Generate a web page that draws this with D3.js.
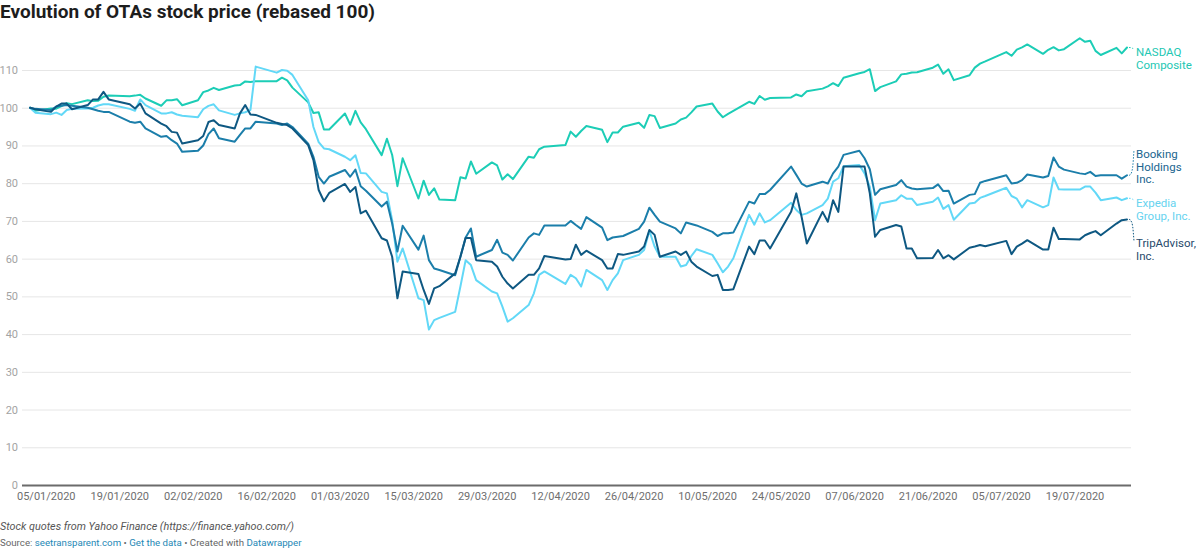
<!DOCTYPE html>
<html>
<head>
<meta charset="utf-8">
<script src="https://cdn.jsdelivr.net/npm/d3@7"></script>
<style>
  html, body { margin: 0; padding: 0; background: #fff; }
  svg { display: block; font-family: Roboto, "Noto Sans", sans-serif; }
</style>
</head>
<body>
<svg id="chart" width="1200" height="550"></svg>
<script>
const dates = [
  "2020-01-02","2020-01-03","2020-01-06","2020-01-07","2020-01-08","2020-01-09","2020-01-10","2020-01-13","2020-01-14","2020-01-15","2020-01-16","2020-01-17","2020-01-21","2020-01-22","2020-01-23","2020-01-24","2020-01-27","2020-01-28","2020-01-29","2020-01-30","2020-01-31",
  "2020-02-03","2020-02-04","2020-02-05","2020-02-06","2020-02-07","2020-02-10","2020-02-11","2020-02-12","2020-02-13","2020-02-14","2020-02-18","2020-02-19","2020-02-20","2020-02-21","2020-02-24","2020-02-25","2020-02-26","2020-02-27","2020-02-28",
  "2020-03-02","2020-03-03","2020-03-04","2020-03-05","2020-03-06","2020-03-09","2020-03-10","2020-03-11","2020-03-12","2020-03-13","2020-03-16","2020-03-17","2020-03-18","2020-03-19","2020-03-20","2020-03-23","2020-03-24","2020-03-25","2020-03-26","2020-03-27","2020-03-30","2020-03-31",
  "2020-04-01","2020-04-02","2020-04-03","2020-04-06","2020-04-07","2020-04-08","2020-04-09","2020-04-13","2020-04-14","2020-04-15","2020-04-16","2020-04-17","2020-04-20","2020-04-21","2020-04-22","2020-04-23","2020-04-24","2020-04-27","2020-04-28","2020-04-29","2020-04-30",
  "2020-05-01","2020-05-04","2020-05-05","2020-05-06","2020-05-07","2020-05-08","2020-05-11","2020-05-12","2020-05-13","2020-05-14","2020-05-15","2020-05-18","2020-05-19","2020-05-20","2020-05-21","2020-05-22","2020-05-26","2020-05-27","2020-05-28","2020-05-29",
  "2020-06-01","2020-06-02","2020-06-03","2020-06-04","2020-06-05","2020-06-08","2020-06-09","2020-06-10","2020-06-11","2020-06-12","2020-06-15","2020-06-16","2020-06-17","2020-06-18","2020-06-19","2020-06-22","2020-06-23","2020-06-24","2020-06-25","2020-06-26","2020-06-29","2020-06-30",
  "2020-07-01","2020-07-02","2020-07-06","2020-07-07","2020-07-08","2020-07-09","2020-07-10","2020-07-13","2020-07-14","2020-07-15","2020-07-16","2020-07-17","2020-07-20","2020-07-21","2020-07-22","2020-07-23","2020-07-24","2020-07-27","2020-07-28","2020-07-29"
];

const nasdaq = [
  100,99.21,99.77,99.74,100.41,101.22,100.95,102.00,101.75,101.83,102.91,103.26,103.06,103.21,103.41,102.45,100.52,101.95,102.01,102.27,100.65,
  101.99,104.13,104.58,105.28,104.71,105.90,106.01,106.97,106.82,107.03,107.05,107.97,107.25,105.33,101.42,98.61,98.77,94.22,94.23,
  98.46,95.51,99.18,96.11,94.32,87.44,91.77,87.46,79.21,86.61,75.94,80.67,76.88,78.65,75.66,75.46,81.59,81.22,85.76,82.51,85.50,84.69,
  80.96,82.35,81.09,87.03,86.75,88.99,89.68,90.10,93.66,92.31,93.84,95.14,94.15,90.88,93.44,93.43,94.97,96.02,94.67,98.05,97.77,
  94.64,95.80,96.89,97.38,98.76,100.32,101.10,99.01,97.48,98.37,99.15,101.57,101.02,103.12,102.12,102.56,102.73,103.52,103.04,104.37,
  105.06,105.68,106.50,105.76,107.94,109.16,109.48,110.21,104.41,105.46,106.97,108.84,109.00,109.36,109.39,110.61,111.43,108.99,110.17,107.31,108.60,110.63,
  111.69,112.27,114.75,113.77,115.40,116.01,116.78,114.28,115.36,116.04,115.20,115.52,118.42,117.47,117.75,115.06,113.98,115.88,114.41,115.96
];

const booking = [
  100,99.7,99.4,100.3,100.5,100.7,100.5,100,99.6,99.2,98.9,98.9,96.3,96.0,96.3,94.5,92.3,92.5,91.4,90.5,88.3,
  88.6,90.0,93.0,94.5,91.9,91.0,92.8,94.5,94.5,96.3,95.8,95.4,95.8,94.9,90.5,87.0,81.7,79.9,81.7,
  83.5,81.7,83.6,79.2,78.0,73.8,75.1,69.3,61.9,68.7,62.4,66.1,59.6,57.4,57.0,55.6,60.5,65.6,68.0,60.5,62.3,65.0,
  61.6,61.0,59.5,65.6,66.7,66.3,68.8,68.8,70.0,68.9,67.9,71.0,68.2,64.9,65.6,65.8,66.0,67.9,69.8,73.5,71.6,
  69.8,68.0,66.7,69.6,69.2,68.8,67.1,66.0,66.7,66.7,66.9,75.1,74.6,77.1,77.1,78.2,84.4,82.2,79.9,79.1,
  80.4,79.9,82.6,84.4,87.5,88.6,86.6,83.7,76.9,78.4,79.5,80.8,79.1,78.6,78.4,78.7,79.7,77.9,78.0,74.6,76.9,77.1,
  80.1,80.6,82.1,79.9,80.1,80.8,82.3,81.5,81.9,86.8,84.4,83.6,82.6,82.4,83.0,81.9,82.1,82.1,81.2,82.1
];

const expedia = [
  100,98.7,98.3,98.7,98.1,99.4,99.7,99.8,100,100.6,100.9,100.9,99.7,99.2,102.2,100.7,98.5,98.5,98.8,98.2,97.9,
  97.5,99.6,100.5,100.9,99.3,98.1,98.5,98.8,99.4,110.9,109.3,110.0,109.8,108.7,102.0,94.9,90.9,89.2,89.0,
  87.0,86.1,87.4,82.7,82.6,77.7,77.3,70.2,59.2,62.7,49.5,49.0,41.2,43.7,44.3,45.9,52.6,59.6,58.3,54.3,51.3,50.8,
  47.3,43.3,44.2,47.7,50.8,55.7,56.6,53.3,55.7,54.8,52.6,57.0,54.3,51.7,54.3,56.1,59.6,61.0,62.3,67.4,63.2,
  60.5,60.5,57.9,58.3,60.7,62.5,61.0,58.8,56.4,57.9,60.1,71.6,69.0,72.0,69.6,70.2,74.8,72.9,71.6,72.0,
  74.2,75.9,80.4,81.3,84.5,84.8,82.6,79.0,70.2,74.6,75.5,76.8,75.9,75.9,74.2,75.1,76.2,73.2,74.2,70.3,74.6,74.8,
  76.1,76.6,78.8,76.6,75.9,73.6,75.5,73.6,74.2,81.5,78.4,78.3,78.3,79.1,79.1,77.5,75.5,76.2,75.5,76.0
];

const tripadvisor = [
  100,99.6,98.9,100.3,101.1,101.1,99.6,100.7,102.2,102.2,104.2,102.2,100.9,99.8,101.1,98.5,95.8,95.1,93.6,93.4,90.5,
  91.4,92.5,96.2,96.7,95.4,94.5,98.5,100.7,98.2,98.1,96.0,95.7,95.4,94.5,90.1,86.1,78.2,75.2,77.4,
  79.8,77.7,79.0,72.0,72.7,65.4,64.8,60.5,49.5,56.6,55.9,51.7,48.0,52.1,52.7,56.1,60.5,65.5,65.5,59.6,59.2,57.9,
  55.2,53.4,52.1,55.7,55.7,57.4,60.7,59.8,59.9,63.7,61.0,62.1,59.6,57.4,57.4,61.2,61.0,61.9,63.2,67.6,66.3,
  60.5,61.9,61.0,61.9,59.2,57.9,55.4,55.7,51.7,51.7,51.9,63.2,61.2,64.8,64.8,62.7,72.4,77.3,71.1,64.0,
  72.4,69.8,75.5,72.4,84.4,84.4,84.4,77.3,65.8,67.6,68.9,68.5,62.7,62.7,60.1,60.2,62.3,60.1,60.9,59.8,62.9,63.2,
  63.6,63.3,64.7,61.2,63.2,64.0,64.9,62.4,62.4,68.2,65.2,65.2,65.1,66.2,66.8,67.3,66.2,69.3,70.2,70.4
];

const seriesNames = ["NASDAQ Composite", "Expedia Group, Inc.", "Booking Holdings Inc.", "TripAdvisor, Inc."];
const yTicks = [0,10,20,30,40,50,60,70,80,90,100,110];
const xTickDates = ["2020-01-05","2020-01-19","2020-02-02","2020-02-16","2020-03-01","2020-03-15","2020-03-29","2020-04-12","2020-04-26","2020-05-10","2020-05-24","2020-06-07","2020-06-21","2020-07-05","2020-07-19"];

const title = "Evolution of OTAs stock price (rebased 100)";
const note = "Stock quotes from Yahoo Finance (https://finance.yahoo.com/)";

// ---- layout ----
const parse = d3.utcParse("%Y-%m-%d");
const fmt = d3.utcFormat("%d/%m/%Y");
const svg = d3.select("#chart");

const x = d3.scaleUtc().domain([parse(dates[0]), parse(dates[dates.length - 1])]).range([30, 1127]);
const y = d3.scaleLinear().domain([0, 110]).range([485, 70]);

const gridLeft = 22, gridRight = 1131;

// title
svg.append("text").attr("x", 0).attr("y", 18)
  .attr("font-size", 19).attr("font-weight", 700).attr("fill", "#1d1d1d")
  .text(title);

// gridlines + y labels
const yAxis = d3.axisLeft(y).tickValues(yTicks).tickSize(-(gridRight - gridLeft)).tickPadding(4);
const gy = svg.append("g").attr("transform", `translate(${gridLeft},0)`).call(yAxis);
gy.select(".domain").remove();
gy.selectAll(".tick line").attr("stroke", d => d === 0 ? "#6b6b6b" : "#e6e6e6").attr("stroke-width", d => d === 0 ? 2 : 1);
gy.selectAll(".tick text").attr("font-size", 11).attr("fill", "#a3a3a3").attr("font-family", "Roboto, sans-serif");

// x axis labels
const xAxis = d3.axisBottom(x).tickValues(xTickDates.map(parse)).tickFormat(fmt).tickSize(0).tickPadding(6);
const gx = svg.append("g").attr("transform", `translate(0,${y(0) + 1})`).call(xAxis);
gx.select(".domain").remove();
gx.selectAll(".tick text").attr("font-size", 11).attr("fill", "#6e6e6e").attr("font-family", "Roboto, sans-serif");

// lines
const colors = {
  "NASDAQ Composite": "#1ccdb6",
  "Expedia Group, Inc.": "#62d8f7",
  "Booking Holdings Inc.": "#1b7eaa",
  "TripAdvisor, Inc.": "#0e5882"
};
const seriesValues = {
  "NASDAQ Composite": nasdaq,
  "Expedia Group, Inc.": expedia,
  "Booking Holdings Inc.": booking,
  "TripAdvisor, Inc.": tripadvisor
};
const line = d3.line().x((d, i) => x(parse(dates[i]))).y(d => y(d));
seriesNames.forEach(name => {
  svg.append("path").datum(seriesValues[name])
    .attr("fill", "none").attr("stroke", colors[name]).attr("stroke-width", 2)
    .attr("stroke-linejoin", "round").attr("stroke-linecap", "round")
    .attr("d", line);
});

// direct labels
const lastX = x(parse(dates[dates.length - 1]));
const labelX = 1136;
const labels = [
  { name: "NASDAQ Composite", lines: ["NASDAQ", "Composite"], top: 52, color: "#22c7b3" },
  { name: "Booking Holdings Inc.", lines: ["Booking", "Holdings", "Inc."], top: 154, color: "#20658f" },
  { name: "Expedia Group, Inc.", lines: ["Expedia", "Group, Inc."], top: 203, color: "#66d3ef" },
  { name: "TripAdvisor, Inc.", lines: ["TripAdvisor,", "Inc."], top: 243, color: "#274a6b" }
];
labels.forEach(l => {
  const vals = seriesValues[l.name];
  const endY = y(vals[vals.length - 1]);
  const t = svg.append("text").attr("x", labelX).attr("font-size", 11.5).attr("fill", l.color);
  l.lines.forEach((s, i) => {
    t.append("tspan").attr("x", labelX).attr("y", l.top + i * 12.5).attr("dy", "0.35em").text(s);
  });
  const labelMidY = l.top + (l.lines.length - 1) * 12.5 / 2;
  if (Math.abs(labelMidY - endY) > 6) {
    const targetY = labelMidY < endY ? l.top - 4 : l.top - 2;
    svg.append("path")
      .attr("d", `M${lastX + 2},${endY} C${lastX + 6},${endY} ${labelX - 3},${(endY + targetY) / 2} ${labelX - 2},${targetY}`)
      .attr("fill", "none").attr("stroke", colors[l.name]).attr("stroke-width", 1)
      .attr("stroke-dasharray", "1.5,1.5");
  } else if (Math.abs(labelMidY - endY) > 1.5) {
    svg.append("line").attr("x1", lastX + 2).attr("y1", endY).attr("x2", labelX - 2).attr("y2", labelMidY)
      .attr("stroke", colors[l.name]).attr("stroke-width", 1).attr("stroke-dasharray", "1.5,1.5");
  }
});

// footer
svg.append("text").attr("x", 0).attr("y", 530)
  .attr("font-size", 10.8).attr("font-style", "italic").attr("fill", "#555")
  .text(note);
const src = svg.append("text").attr("x", 0).attr("y", 546).attr("font-size", 9.7).attr("fill", "#666");
src.append("tspan").text("Source: ");
src.append("tspan").attr("fill", "#1e88b6").text("seetransparent.com");
src.append("tspan").text(" • ");
src.append("tspan").attr("fill", "#1e88b6").text("Get the data");
src.append("tspan").text(" • Created with ");
src.append("tspan").attr("fill", "#1e88b6").text("Datawrapper");
</script>
</body>
</html>
